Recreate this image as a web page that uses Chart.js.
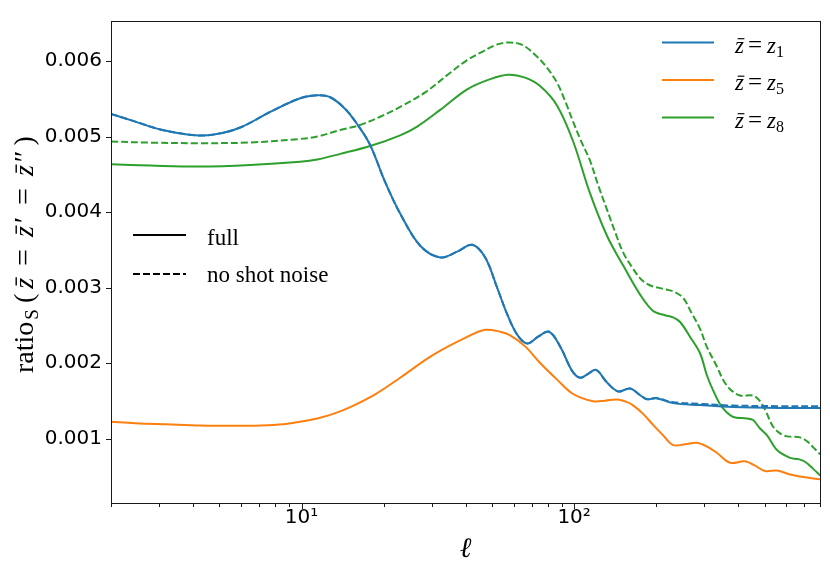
<!DOCTYPE html>
<html>
<head>
<meta charset="utf-8">
<script src="https://cdn.jsdelivr.net/npm/chart.js@4.4.1/dist/chart.umd.min.js"></script>
<style>
html,body{margin:0;padding:0;background:#fff;}
#wrap{width:830px;height:571px;position:relative;}
</style>
</head>
<body>
<div id="wrap"><canvas id="c" width="830" height="571"></canvas></div>
<script>
// ---- data ----
const ellZ1 = [2, 2.456, 3.033, 4.076, 4.826, 5.96, 7.678, 9.89, 11.42, 12.74, 14.46, 16.14, 17.86, 20.27, 23.0, 27.25, 32.26, 37.23, 42.27, 47.17, 52.20, 56.80, 61.80, 67.26, 73.79, 80.95, 88.85, 98.3, 105.2, 112.5, 120.4, 132.1, 145.0, 160.5, 174.6, 185.2, 199.8, 230.7, 289.7, 382.8, 569.2, 798];
const ratioZ1Full = [0.005301, 0.005198, 0.005094, 0.005017, 0.005030, 0.005120, 0.005327, 0.005508, 0.005547, 0.005521, 0.005366, 0.005146, 0.004887, 0.004396, 0.003982, 0.003555, 0.003400, 0.003477, 0.003568, 0.003400, 0.002999, 0.002649, 0.002378, 0.002261, 0.002352, 0.002417, 0.002223, 0.001899, 0.001808, 0.001860, 0.001912, 0.001744, 0.001627, 0.001666, 0.001576, 0.001524, 0.001537, 0.001472, 0.001446, 0.001420, 0.001407, 0.001407];
const ratioZ1NoShot = [0.005301, 0.005198, 0.005094, 0.005017, 0.005030, 0.005120, 0.005327, 0.005508, 0.005547, 0.005521, 0.005366, 0.005146, 0.004887, 0.004396, 0.003982, 0.003555, 0.003400, 0.003477, 0.003568, 0.003400, 0.002999, 0.002649, 0.002378, 0.002261, 0.002352, 0.002417, 0.002223, 0.001899, 0.001808, 0.001860, 0.001912, 0.001744, 0.001627, 0.001666, 0.001576, 0.001524, 0.001540, 0.001485, 0.001462, 0.001440, 0.001432, 0.001432];

const ellZ5 = [2, 2.456, 3.209, 4.251, 5.617, 7.058, 8.568, 9.89, 11.42, 13.07, 15.09, 18.63, 23.0, 30.40, 40.52, 47.17, 53.55, 58.26, 66.13, 75.04, 86.63, 99.2, 117.4, 129.9, 143.8, 156.5, 164.6, 179.1, 194.9, 212.1, 230.7, 255.3, 282.5, 309.9, 334.5, 373.3, 423.6, 461.0, 501.6, 555.0, 619.7, 674.3, 733.6, 798];
const ratioZ5Full = [0.001226, 0.001207, 0.001191, 0.001175, 0.001171, 0.001175, 0.001191, 0.001226, 0.001269, 0.001330, 0.001420, 0.001589, 0.001808, 0.002110, 0.002348, 0.002442, 0.002417, 0.002369, 0.002223, 0.002003, 0.001783, 0.001593, 0.001498, 0.001505, 0.001520, 0.001485, 0.001442, 0.001330, 0.001184, 0.001045, 0.000916, 0.000929, 0.000948, 0.000890, 0.000812, 0.000683, 0.000702, 0.000644, 0.000573, 0.000580, 0.000528, 0.000502, 0.000482, 0.000463];

const ellZ8Full = [2, 2.788, 4.251, 6.485, 9.89, 11.42, 13.87, 17.86, 23.0, 26.57, 32.26, 40.52, 49.20, 57.28, 66.13, 75.04, 86.63, 99.2, 114.5, 132.1, 151.2, 174.6, 194.9, 215.7, 230.7, 244.8, 266.4, 289.7, 307.3, 326.1, 348.9, 382.8, 430.9, 453.3, 481.0, 510.3, 555.0, 619.7, 665.2, 703.3, 752.2, 798];
const ratioZ8Full = [0.004633, 0.004616, 0.004603, 0.004625, 0.004668, 0.004697, 0.004771, 0.004875, 0.005017, 0.005133, 0.005353, 0.005625, 0.005760, 0.005819, 0.005780, 0.005668, 0.005409, 0.004935, 0.004244, 0.003684, 0.003296, 0.002908, 0.002692, 0.002636, 0.002607, 0.002546, 0.002348, 0.002132, 0.001834, 0.001614, 0.001420, 0.001291, 0.001269, 0.001248, 0.001136, 0.001045, 0.000851, 0.000748, 0.000731, 0.000696, 0.000605, 0.000515];

const ellZ8NoShot = [2, 2.788, 4.251, 6.485, 9.89, 11.42, 13.87, 16.14, 19.44, 23.0, 28.42, 35.11, 40.52, 46.38, 52.20, 58.26, 65.02, 73.16, 79.61, 86.63, 92.69, 99.2, 106.1, 114.5, 122.5, 132.1, 141.4, 151.2, 163.2, 174.6, 185.2, 194.9, 212.1, 230.7, 251.0, 268.7, 289.7, 307.3, 333.7, 351.9, 373.3, 406.3, 453.3, 481.0, 505.9, 536.6, 569.2, 604.1, 674.3, 715.0, 752.2, 798];
const ratioZ8NoShot = [0.004935, 0.004920, 0.004913, 0.004922, 0.004969, 0.005000, 0.005088, 0.005146, 0.005263, 0.005392, 0.005586, 0.005845, 0.006013, 0.006129, 0.006220, 0.006246, 0.006207, 0.006056, 0.005909, 0.005711, 0.005470, 0.005194, 0.004939, 0.004677, 0.004357, 0.004030, 0.003736, 0.003468, 0.003270, 0.003124, 0.003050, 0.003016, 0.002986, 0.002951, 0.002865, 0.002675, 0.002455, 0.002210, 0.001960, 0.001783, 0.001657, 0.001572, 0.001572, 0.001498, 0.001356, 0.001162, 0.001071, 0.001032, 0.001019, 0.000968, 0.000890, 0.000796];

const yTickValues = [0.001, 0.002, 0.003, 0.004, 0.005, 0.006];
const xMajorTicks = [10, 100];
const xMinorTicks = [2, 3, 4, 5, 6, 7, 8, 9, 20, 30, 40, 50, 60, 70, 80, 90, 200, 300, 400, 500, 600, 700, 800];
const xTickLabels = {10: '10\u00B9', 100: '10\u00B2'};
const seriesSubscripts = ['1', '5', '8'];
const styleLegendLabels = ['full', 'no shot noise'];

// ---- styling ----
const C_BLUE = '#1f77b4', C_ORANGE = '#ff7f0e', C_GREEN = '#2ca02c';
const SERIF = '"Liberation Serif", "Times New Roman", "DejaVu Serif", serif';
const SANS = '"DejaVu Sans", sans-serif';
const DASH = [7, 3];

function pts(xs, ys) { return xs.map((x, i) => ({x: x, y: ys[i]})); }
function ds(data, color, dashed) {
  return {data: data, borderColor: color, borderWidth: 2, pointRadius: 0, fill: false,
          tension: 0.35, borderDash: dashed ? DASH : [], borderCapStyle: 'butt', borderJoinStyle: 'round'};
}

function drawMath(ctx, tokens, x, y) {
  for (const tk of tokens) {
    x += tk.dx || 0;
    ctx.font = tk.font;
    const w = ctx.measureText(tk.t).width;
    ctx.fillText(tk.t, x, y + (tk.dy || 0));
    if (tk.bar) {
      const s = tk.size;
      ctx.beginPath();
      ctx.lineWidth = Math.max(1, s * 0.05);
      ctx.moveTo(x + w * 0.3, y - s * 0.6);
      ctx.lineTo(x + w * 1.05, y - s * 0.6);
      ctx.stroke();
    }
    x += w;
  }
  return x;
}

const decor = {
  id: 'decor',
  afterDraw(chart) {
    const ctx = chart.ctx, a = chart.chartArea, xs = chart.scales.x, ys = chart.scales.y;
    ctx.save();
    ctx.strokeStyle = '#1a1a1a';
    ctx.fillStyle = '#000';
    ctx.lineWidth = 1;
    // frame
    ctx.strokeRect(a.left + 0.5, a.top + 0.5, a.right - a.left, a.bottom - a.top);
    // ticks
    ctx.beginPath();
    const tickSet = [...xMajorTicks.map(v => [v, 5]), ...xMinorTicks.map(v => [v, 3])];
    for (const [v, len] of tickSet) {
      const px = Math.round(xs.getPixelForValue(v)) + 0.5;
      ctx.moveTo(px, a.bottom + 1); ctx.lineTo(px, a.bottom + 1 + len);
    }
    for (const v of yTickValues) {
      const py = Math.round(ys.getPixelForValue(v)) + 0.5;
      ctx.moveTo(a.left, py); ctx.lineTo(a.left - 5, py);
    }
    ctx.stroke();

    // series legend (top right)
    const colors = [C_BLUE, C_ORANGE, C_GREEN];
    const rowsY = [42.5, 80, 117.5];
    ctx.textBaseline = 'alphabetic';
    ctx.textAlign = 'left';
    for (let i = 0; i < 3; i++) {
      ctx.strokeStyle = colors[i]; ctx.lineWidth = 2;
      ctx.beginPath(); ctx.moveTo(662, rowsY[i]); ctx.lineTo(714, rowsY[i]); ctx.stroke();
      ctx.strokeStyle = '#000'; ctx.fillStyle = '#000';
      drawMath(ctx, [
        {t: 'z', font: 'italic 23px ' + SERIF, size: 23, bar: true},
        {t: '=', font: '25px ' + SERIF, dx: 4},
        {t: 'z', font: 'italic 23px ' + SERIF, dx: 5},
        {t: seriesSubscripts[i], font: '16px ' + SERIF, dy: 4, dx: 0}
      ], 735, rowsY[i] + 10);
    }

    // style legend (left)
    ctx.strokeStyle = '#000'; ctx.lineWidth = 2;
    ctx.beginPath(); ctx.moveTo(133, 235); ctx.lineTo(186, 235); ctx.stroke();
    ctx.setLineDash(DASH);
    ctx.beginPath(); ctx.moveTo(133, 274); ctx.lineTo(186, 274); ctx.stroke();
    ctx.setLineDash([]);
    ctx.font = '23px ' + SERIF;
    ctx.fillText(styleLegendLabels[0], 207, 245);
    ctx.fillText(styleLegendLabels[1], 207, 282);

    // x axis title
    ctx.textAlign = 'center';
    ctx.font = 'italic 28px ' + SERIF;
    ctx.fillText('\u2113', (a.left + a.right) / 2, 557);

    // y axis title
    ctx.textAlign = 'left';
    ctx.save();
    ctx.translate(33, 373);
    ctx.rotate(-Math.PI / 2);
    ctx.strokeStyle = '#000';
    const F = '28px ' + SERIF, FI = 'italic 28px ' + SERIF;
    drawMath(ctx, [
      {t: 'ratio', font: F},
      {t: 'S', font: '19px ' + SERIF, dy: 5, dx: 2},
      {t: '(', font: F, dx: 6},
      {t: 'z', font: FI, size: 28, bar: true, dx: 5},
      {t: '=', font: '30px ' + SERIF, dx: 12},
      {t: 'z', font: FI, size: 28, bar: true, dx: 12},
      {t: '\u2032', font: F, dx: 3},
      {t: '=', font: '30px ' + SERIF, dx: 12},
      {t: 'z', font: FI, size: 28, bar: true, dx: 12},
      {t: '\u2033', font: F, dx: 3},
      {t: ')', font: F, dx: 5}
    ], 0, 0);
    ctx.restore();
    ctx.restore();
  }
};

new Chart(document.getElementById('c'), {
  type: 'line',
  data: {
    datasets: [
      ds(pts(ellZ1, ratioZ1Full), C_BLUE, false),
      ds(pts(ellZ1, ratioZ1NoShot), C_BLUE, true),
      ds(pts(ellZ5, ratioZ5Full), C_ORANGE, false),
      ds(pts(ellZ8Full, ratioZ8Full), C_GREEN, false),
      ds(pts(ellZ8NoShot, ratioZ8NoShot), C_GREEN, true)
    ]
  },
  options: {
    responsive: false,
    devicePixelRatio: 1,
    animation: false,
    layout: {padding: {top: 10, right: 10, left: 0, bottom: 0}},
    plugins: {legend: {display: false}, tooltip: {enabled: false}},
    scales: {
      x: {
        type: 'logarithmic', min: 2, max: 798,
        afterBuildTicks: s => { s.ticks = [...xMinorTicks, ...xMajorTicks].sort((p, q) => p - q).map(v => ({value: v})); },
        afterFit: s => { s.height = 68; },
        grid: {display: false, drawTicks: false},
        border: {display: false},
        ticks: {autoSkip: false, maxRotation: 0, minRotation: 0, padding: 3, color: '#000',
                font: {family: SANS, size: 20}, callback: v => xTickLabels[v] || ''}
      },
      y: {
        type: 'linear', min: 0.00015, max: 0.00653,
        afterBuildTicks: s => { s.ticks = yTickValues.map(v => ({value: v})); },
        afterFit: s => { s.width = 111; },
        grid: {display: false, drawTicks: false},
        border: {display: false},
        ticks: {padding: 9, color: '#000', font: {family: SANS, size: 20}, callback: v => v.toFixed(3)}
      }
    }
  },
  plugins: [decor]
});
</script>
</body>
</html>
